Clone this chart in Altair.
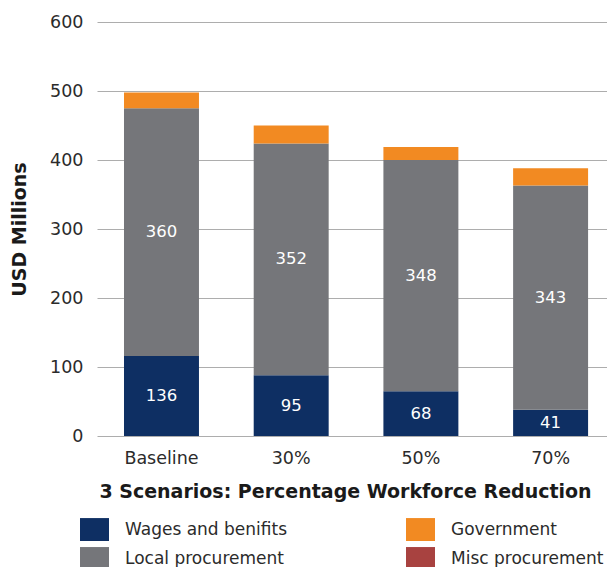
import altair as alt
import pandas as pd

# ---- data ----
scenarios = ["Baseline", "30%", "50%", "70%"]
wages = [116, 88, 65, 38]
local_proc = [359, 336, 335, 325]
government = [23, 26, 19, 25]
wage_labels = [136, 95, 68, 41]
local_labels = [360, 352, 348, 343]

legend_order = ["Wages and benifits", "Local procurement", "Government", "Misc procurement"]
legend_colors = ["#0e2f63", "#75767a", "#f28a22", "#a84240"]

rows = []
for i, s in enumerate(scenarios):
    rows.append({"scenario": s, "category": "Wages and benifits", "value": wages[i], "label": wage_labels[i], "order": 1})
    rows.append({"scenario": s, "category": "Local procurement", "value": local_proc[i], "label": local_labels[i], "order": 2})
    rows.append({"scenario": s, "category": "Government", "value": government[i], "label": None, "order": 3})
df = pd.DataFrame(rows)

F = "DejaVu Sans"

base = alt.Chart(df).transform_stack(
    stack="value",
    groupby=["scenario"],
    sort=[alt.SortField("order", order="ascending")],
    as_=["y0", "y1"],
).transform_calculate(mid="(datum.y0 + datum.y1) / 2")

xscale = alt.Scale(paddingInner=0.422, paddingOuter=0.177, align=0.588)
yscale = alt.Scale(domain=[0, 600])

xaxis = alt.Axis(title="3 Scenarios: Percentage Workforce Reduction",
                 labelAngle=0, ticks=False, domain=False, grid=False,
                 labelFont=F, labelFontSize=17.5, labelColor="#2b2b2b",
                 labelPadding=13,
                 titleFont=F, titleFontSize=19, titleFontWeight="bold",
                 titleColor="#1a1a1a", titleX=248, titleY=55,
                 titleBaseline="middle")
yaxis = alt.Axis(title="USD Millions", values=[0, 100, 200, 300, 400, 500, 600],
                 ticks=False, domain=False, grid=True,
                 gridColor="#adadad", gridWidth=1.2,
                 labelFont=F, labelFontSize=17.5, labelColor="#2b2b2b",
                 labelPadding=14,
                 titleFont=F, titleFontSize=19, titleFontWeight="bold",
                 titleColor="#1a1a1a", titleX=-78, titleY=207,
                 titleBaseline="middle", titleAngle=270)

bars = base.mark_bar().encode(
    x=alt.X("scenario:N", sort=scenarios, scale=xscale, axis=xaxis),
    y=alt.Y("y0:Q", scale=yscale, axis=yaxis),
    y2="y1:Q",
    color=alt.Color("category:N",
                    scale=alt.Scale(domain=legend_order, range=legend_colors),
                    legend=alt.Legend(orient="none", legendX=-17, legendY=493,
                                      columns=2, title=None,
                                      symbolType="M-1,-0.79H1V0.79H-1Z",
                                      symbolSize=841, symbolStrokeWidth=0,
                                      symbolOpacity=1,
                                      labelFont=F, labelFontSize=17,
                                      labelColor="#2b2b2b", labelOffset=16,
                                      labelLimit=400,
                                      columnPadding=118, rowPadding=3,
                                      gridAlign="all")),
)

text = base.transform_filter("isValid(datum.label)").mark_text(
    color="white", font=F, fontSize=16.5, baseline="middle", align="center"
).encode(
    x=alt.X("scenario:N", sort=scenarios, scale=xscale, axis=xaxis),
    y=alt.Y("mid:Q", scale=yscale, axis=yaxis),
    text=alt.Text("label:Q"),
)

chart = alt.layer(bars, text).properties(
    width=510,
    height=414,
    padding={"left": 89, "top": 14, "right": 0, "bottom": 131},
    autosize=alt.AutoSizeParams(type="none"),
).configure_view(stroke=None)

chart.save("out.html", embed_options={"renderer": "svg", "actions": False})
